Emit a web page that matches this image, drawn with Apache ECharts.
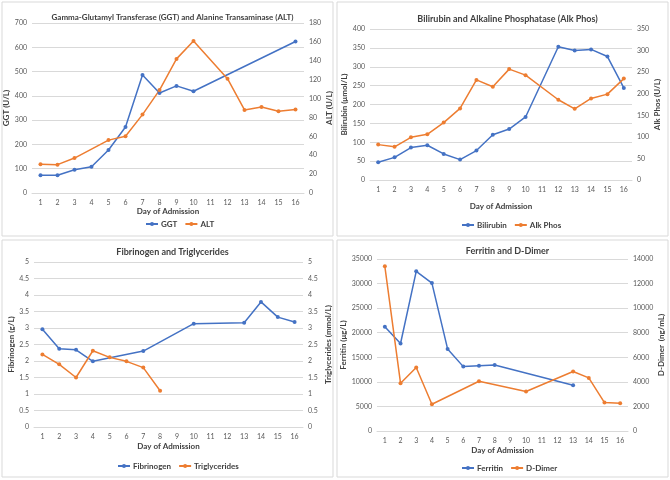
<!DOCTYPE html>
<html>
<head>
<meta charset="utf-8">
<script src="https://cdn.jsdelivr.net/npm/echarts@6/dist/echarts.min.js"></script>
<style>
  html, body { margin: 0; padding: 0; background: #fff; }
  #main { width: 670px; height: 480px; }
</style>
</head>
<body>
<div id="main"></div>
<script>
// 横轴：入院天数
var days = ['1', '2', '3', '4', '5', '6', '7', '8', '9', '10', '11', '12', '13', '14', '15', '16'];

// 左上：GGT / ALT
var ggt = [73, 73, 96, 108, 177, 272, 486, 412, 441, 419, null, null, null, null, null, 624];
var alt = [30.5, 30, 37, null, 56, 60, 83, 109, 142, 161, null, 121, 88, 91, 86.5, 88.5];

// 右上：Bilirubin / Alk Phos
var bilirubin = [47, 60, 86, 92, 69, 54, 78, 120, 135, 167, null, 353, 343, 346, 327, 244];
var alkPhos = [82, 77, 99, 106, 133, 166, 232, 216, 257, 243, null, 186, 165, 189, 199, 235];

// 左下：Fibrinogen / Triglycerides
var fibrinogen = [2.96, 2.37, 2.34, 1.99, null, null, 2.30, null, null, 3.13, null, null, 3.16, 3.79, 3.33, 3.18];
var triglycerides = [2.2, 1.9, 1.5, 2.31, 2.11, 1.99, 1.8, 1.1, null, null, null, null, null, null, null, null];

// 右下：Ferritin / D-Dimer
var ferritin = [21200, 17800, 32500, 30100, 16700, 13100, 13300, 13450, null, null, null, null, 9300, null, null, null];
var dDimer = [13400, 3890, 5165, 2175, null, null, 4050, null, null, 3210, null, null, 4840, 4320, 2310, 2256];

var BLUE = '#4472C4', ORANGE = '#ED7D31';
var FONT = 'Lato';

// 四个面板的布局
var panels = [
  {
    title: 'Gamma-Glutamyl Transferase (GGT) and Alanine Transaminase (ALT)', titleSize: 8,
    box: [2, 2, 331, 234], grid: {left: 32, top: 23, width: 272, height: 170},
    titleTop: 8, legendTop: 220, legendLeft: 145, xGap: 14,
    left: {name: 'GGT (U/L)', max: 700, interval: 100, gap: 19},
    right: {name: 'ALT (U/L)', max: 180, interval: 20, gap: 24},
    s: [['GGT', ggt], ['ALT', alt]]
  },
  {
    title: 'Bilirubin and Alkaline Phosphatase (Alk Phos)', titleSize: 9,
    box: [337, 2, 331, 234], grid: {left: 370, top: 29, width: 262, height: 151},
    titleTop: 10, legendTop: 221, legendLeft: 461, xGap: 22,
    left: {name: 'Bilirubin (\u03bcmol/L)', max: 400, interval: 50, gap: 20},
    right: {name: 'Alk Phos (U/L)', max: 350, interval: 50, gap: 25},
    s: [['Bilirubin', bilirubin], ['Alk Phos', alkPhos]]
  },
  {
    title: 'Fibrinogen and Triglycerides', titleSize: 9,
    box: [2, 240, 331, 237], grid: {left: 34, top: 262, width: 269, height: 165},
    titleTop: 243, legendTop: 462, legendLeft: 117, xGap: 15,
    left: {name: 'Fibrinogen (g/L)', max: 5, interval: 0.5, gap: 21},
    right: {name: 'Triglycerides (mmol/L)', max: 5, interval: 0.5, gap: 25},
    s: [['Fibrinogen', fibrinogen], ['Triglycerides', triglycerides]]
  },
  {
    title: 'Ferritin and D-Dimer', titleSize: 9,
    box: [337, 240, 331, 237], grid: {left: 377, top: 259, width: 251, height: 172},
    titleTop: 242, legendTop: 464, legendLeft: 461, xGap: 15,
    left: {name: 'Ferritin (\u03bcg/L)', max: 35000, interval: 5000, gap: 29},
    right: {name: 'D-Dimer  (ng/mL)', max: 14000, interval: 2000, gap: 29},
    s: [['Ferritin', ferritin], ['D-Dimer', dDimer]]
  }
];

var option = {
  textStyle: {fontFamily: FONT},
  animation: false,
  title: [], legend: [], grid: [], xAxis: [], yAxis: [], series: [],
  graphic: []
};

var labelStyle = {color: '#595959', fontSize: 7, fontFamily: FONT};
var nameStyle = {color: '#404040', fontSize: 8, fontWeight: 'bold', fontFamily: FONT};

panels.forEach(function (p, i) {
  var g = p.grid;
  var cx = p.box[0] + p.box[2] / 2;
  option.graphic.push({
    type: 'rect', silent: true,
    shape: {x: p.box[0], y: p.box[1], width: p.box[2], height: p.box[3]},
    style: {fill: 'none', stroke: '#d9d9d9', lineWidth: 1}
  });
  option.title.push({
    text: p.title, left: cx, top: p.titleTop, textAlign: 'center',
    textStyle: {fontSize: p.titleSize, fontWeight: 'bold', color: '#404040', fontFamily: FONT}
  });
  option.legend.push({
    data: [p.s[0][0], p.s[1][0]], top: p.legendTop, left: p.legendLeft,
    itemWidth: 12, itemHeight: 5, itemGap: 7, padding: 0,
    textStyle: {fontSize: 8, fontWeight: 'bold', color: '#404040', fontFamily: FONT, padding: [0, 0, 0, -2]}
  });
  option.grid.push({left: g.left, top: g.top, width: g.width, height: g.height});
  option.xAxis.push({
    type: 'category', gridIndex: i, data: days,
    name: 'Day of Admission', nameLocation: 'middle', nameGap: p.xGap,
    nameTextStyle: nameStyle,
    axisTick: {show: false},
    axisLine: {lineStyle: {color: '#d9d9d9'}},
    axisLabel: Object.assign({margin: 6, interval: 0}, labelStyle)
  });
  [p.left, p.right].forEach(function (a, k) {
    option.yAxis.push({
      type: 'value', gridIndex: i, position: k === 0 ? 'left' : 'right',
      min: 0, max: a.max, interval: a.interval,
      name: a.name, nameLocation: 'middle', nameGap: a.gap,
      nameRotate: 90,
      nameTextStyle: Object.assign({align: 'center', verticalAlign: 'middle'}, nameStyle),
      axisLine: {show: false}, axisTick: {show: false},
      axisLabel: Object.assign({margin: 5, formatter: function (v) { return String(v); }}, labelStyle),
      splitLine: {show: k === 0, lineStyle: {color: '#d9d9d9', width: 1}}
    });
  });
  p.s.forEach(function (s, k) {
    option.series.push({
      name: s[0], type: 'line', data: s[1],
      xAxisIndex: i, yAxisIndex: i * 2 + k,
      connectNulls: true,
      symbol: 'circle', symbolSize: 4,
      color: k === 0 ? BLUE : ORANGE,
      lineStyle: {width: 1.5}
    });
  });
});

var chart = echarts.init(document.getElementById('main'), null, {renderer: 'canvas'});
chart.setOption(option);
</script>
</body>
</html>
